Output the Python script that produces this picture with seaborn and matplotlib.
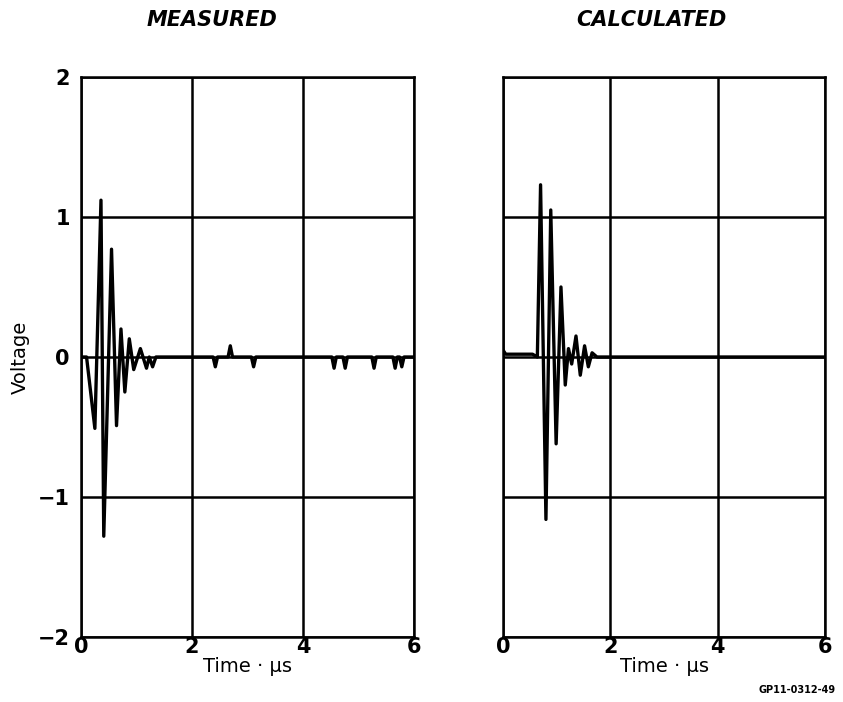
import matplotlib
matplotlib.use("Agg")
import matplotlib.pyplot as plt
import seaborn as sns
import pandas as pd

# Measured trace (time in us, voltage)
measured_t = [0.0, 0.10, 0.25, 0.36, 0.41, 0.55, 0.64, 0.72, 0.79, 0.87, 0.95,
              1.07, 1.18, 1.23, 1.29, 1.35,
              2.38, 2.42, 2.46, 2.65, 2.69, 2.73, 3.07, 3.11, 3.15,
              4.52, 4.56, 4.60, 4.72, 4.76, 4.80, 5.24, 5.28, 5.32,
              5.62, 5.66, 5.70, 5.74, 5.78, 5.82, 6.0]
measured_v = [0.0, 0.0, -0.51, 1.12, -1.28, 0.77, -0.49, 0.20, -0.25, 0.13, -0.09,
              0.06, -0.08, 0.0, -0.07, 0.0,
              0.0, -0.07, 0.0, 0.0, 0.08, 0.0, 0.0, -0.07, 0.0,
              0.0, -0.08, 0.0, 0.0, -0.08, 0.0, 0.0, -0.08, 0.0,
              0.0, -0.08, 0.0, 0.0, -0.07, 0.0, 0.0]

# Calculated trace
calculated_t = [0.0, 0.05, 0.55, 0.64, 0.70, 0.80, 0.89, 0.99, 1.08, 1.16,
                1.22, 1.28, 1.36, 1.44, 1.52, 1.59, 1.66, 1.75, 6.0]
calculated_v = [0.05, 0.02, 0.02, 0.0, 1.23, -1.16, 1.05, -0.62, 0.50, -0.20,
                0.06, -0.05, 0.15, -0.13, 0.08, -0.07, 0.03, 0.0, 0.0]

x_ticks = [0, 2, 4, 6]
y_ticks = [-2, -1, 0, 1, 2]
y_labels = ["\u22122", "\u22121", "0", "1", "2"]

sns.set_style("white")
plt.rcParams['font.family'] = ['DejaVu Sans']
plt.rcParams['text.color'] = 'black'
plt.rcParams['axes.labelcolor'] = 'black'
plt.rcParams['xtick.color'] = 'black'
plt.rcParams['ytick.color'] = 'black'

fig = plt.figure(figsize=(8.43, 7.02), dpi=100)
W, H = 843, 702
ax1 = fig.add_axes([81 / W, 1 - 637 / H, 333 / W, 560 / H])
ax2 = fig.add_axes([503 / W, 1 - 637 / H, 322 / W, 560 / H])

df_m = pd.DataFrame({"t": measured_t, "v": measured_v})
df_c = pd.DataFrame({"t": calculated_t, "v": calculated_v})

for ax, df in [(ax1, df_m), (ax2, df_c)]:
    sns.lineplot(data=df, x="t", y="v", ax=ax, color="black", linewidth=2.4,
                 sort=False, estimator=None)
    ax.set_xlim(0, 6)
    ax.set_ylim(-2, 2)
    ax.set_xticks(x_ticks)
    ax.set_yticks(y_ticks)
    ax.grid(True, color="black", linewidth=1.8)
    for s in ax.spines.values():
        s.set_color("black")
        s.set_linewidth(1.8)
    ax.tick_params(length=0, labelsize=15, pad=0)
    ax.tick_params(axis="y", pad=8)
    for lab in ax.get_xticklabels() + ax.get_yticklabels():
        lab.set_fontweight("bold")
    ax.set_xlabel("Time \u00b7 \u03bcs", fontsize=14, labelpad=0)
    ax.set_ylabel("")

ax1.set_yticklabels(y_labels)
ax2.set_yticklabels([])
ax1.set_ylabel("Voltage", fontsize=14, labelpad=6)

fig.text(212 / W, 1 - 20 / H, "MEASURED", ha="center", va="center",
         fontsize=15, fontweight="bold", fontstyle="italic")
fig.text(651 / W, 1 - 20 / H, "CALCULATED", ha="center", va="center",
         fontsize=15, fontweight="bold", fontstyle="italic")
fig.text(836 / W, 1 - 690 / H, "GP11-0312-49", ha="right", va="center",
         fontsize=7, fontweight="bold")

fig.savefig("out.png", dpi=100)
